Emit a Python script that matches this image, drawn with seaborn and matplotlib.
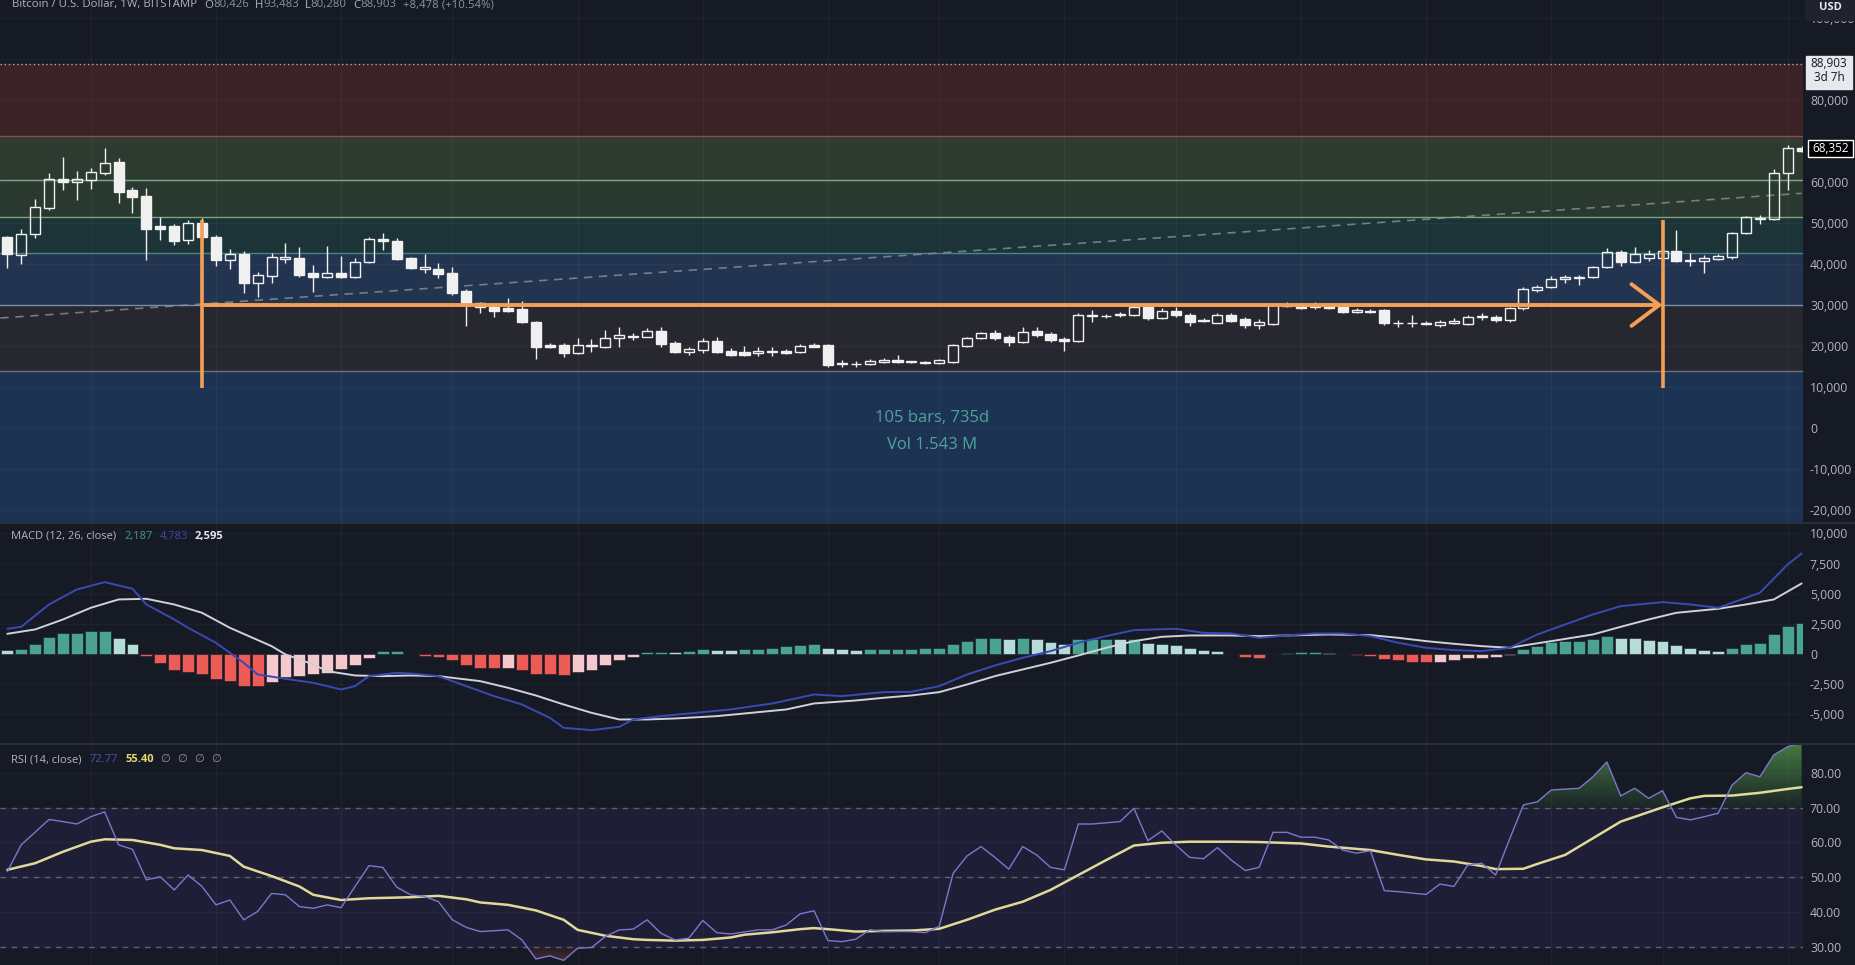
import numpy as np
import matplotlib
matplotlib.use("Agg")
import matplotlib.pyplot as plt
import seaborn as sns
from matplotlib.patches import Rectangle, PathPatch
from matplotlib.path import Path
from matplotlib.lines import Line2D
from matplotlib.colors import LinearSegmentedColormap

# weekly BTC/USD candles (Bitstamp)
opens = [46600, 42320, 47350, 53860, 60930, 60120, 60530, 62400, 64920, 58090,
         56700, 49400, 49470, 45980, 50120, 46790, 41100, 42560, 35570, 37280,
         41340, 41500, 38010, 37030, 38010, 37030, 40530, 46300, 45810, 41500,
         38980, 38900, 37850, 33540, 30690, 29720, 29310, 29150, 25980, 20370,
         20370, 18500, 20120, 19960, 21990, 22400, 22400, 23860, 20770, 18740,
         19150, 21420, 18980, 18580, 18330, 18660, 18980, 18740, 20280, 20370,
         15900, 15650, 15650, 16300, 16710, 16380, 16300, 15900, 16300, 20200,
         21990, 23210, 22400, 21180, 23860, 23050, 21910, 21420, 27440, 27440,
         27600, 27680, 29560, 26870, 28740, 27680, 26460, 25810, 27680, 26710,
         25240, 25490, 29880, 30120, 29640, 29880, 29550, 28500, 28740, 28900,
         25650, 25650, 25490, 25160, 25810, 25490, 27110, 27280, 26460, 29310,
         33780, 34430, 36380, 36790, 36870, 39300, 43120, 40690, 41670, 41580,
         43370, 40940, 40940, 41420, 41750, 47600, 51020, 51020, 62240, 68352]
highs = [47000, 48580, 55890, 62400, 66300, 62890, 63460, 68330, 65900, 58980,
         58580, 51510, 49790, 50850, 51260, 47200, 43860, 43370, 38250, 42720,
         45330, 44350, 39880, 44510, 42070, 41500, 46790, 47600, 46380, 41750,
         42560, 40290, 39470, 33940, 30940, 30530, 31750, 31180, 26300, 20770,
         20770, 21990, 21750, 24020, 24670, 23210, 24430, 24670, 21420, 19960,
         21990, 22240, 19550, 20120, 19960, 19960, 19310, 20610, 20770, 20610,
         16710, 16460, 16870, 17110, 17850, 16550, 16550, 16870, 20610, 22240,
         23620, 24020, 22800, 24670, 24830, 23620, 22240, 28090, 28900, 27930,
         28500, 30530, 29720, 29310, 29560, 28090, 26870, 28090, 28090, 27110,
         26630, 30690, 30940, 30690, 30940, 30530, 29880, 29470, 29070, 29070,
         26460, 27680, 26300, 26460, 26870, 27680, 28090, 27680, 29720, 34590,
         34920, 37200, 37440, 37440, 39630, 43940, 43530, 44190, 43530, 43940,
         48410, 42720, 42320, 42560, 48010, 51830, 52070, 63210, 69140, 68800]
lows = [39060, 40120, 46380, 53290, 58170, 55730, 58330, 61830, 54910, 52480,
        41100, 45980, 44760, 44960, 45980, 39630, 38820, 32970, 32160, 35400,
        40290, 37030, 33370, 36630, 36630, 36630, 40290, 43530, 41100, 38820,
        37850, 36630, 32560, 25000, 28090, 27280, 28500, 25650, 16870, 19550,
        17520, 18170, 18740, 19550, 19960, 21590, 22240, 19960, 18330, 17930,
        18330, 18330, 17680, 17680, 17680, 17680, 18170, 18330, 19800, 14920,
        15080, 14920, 15490, 16060, 15900, 15900, 15820, 15730, 15900, 19960,
        21750, 21590, 20120, 20770, 22240, 21180, 18980, 21180, 26060, 26870,
        27110, 27440, 26460, 26630, 27280, 25000, 25900, 25650, 26060, 24430,
        24180, 25240, 29550, 29150, 29150, 29070, 28090, 28090, 28090, 25240,
        24840, 24840, 25240, 24840, 25490, 25240, 26460, 26060, 26060, 28900,
        33370, 34190, 35400, 35000, 36630, 39060, 39630, 40450, 40940, 41100,
        40690, 39630, 37850, 41100, 41260, 47440, 49870, 50850, 58170, 67500]
closes = [42560, 47440, 53940, 60770, 60120, 60770, 62650, 64760, 57760, 56380,
          48740, 48740, 45730, 50120, 46620, 41100, 42480, 35570, 37440, 41830,
          41910, 37440, 37030, 37850, 37030, 40530, 46300, 45730, 41260, 39060,
          39300, 37680, 33130, 30530, 29720, 28660, 28660, 25980, 19800, 19800,
          18500, 20370, 20370, 21990, 22800, 22640, 23780, 20530, 18740, 19390,
          21420, 18660, 18010, 17930, 18980, 18900, 18500, 20120, 19960, 15490,
          15730, 15810, 16540, 16630, 16140, 16140, 16060, 16710, 20370, 21990,
          23210, 22070, 21180, 23620, 22800, 21590, 21420, 27680, 27680, 27520,
          27930, 29720, 26870, 28740, 27680, 26060, 26220, 27680, 26300, 25240,
          25890, 30120, 30120, 29310, 29880, 29470, 28500, 28820, 28330, 25650,
          25810, 25810, 25810, 26060, 26220, 27280, 27440, 26460, 29470, 34020,
          34430, 36380, 36870, 37030, 39300, 43120, 40690, 42560, 42480, 43370,
          40940, 41100, 41670, 42070, 47760, 51510, 51420, 62400, 68352, 67800]

# zones drawn on the price pane (boundaries, low to high)
zone_edges = [14100, 30120, 42880, 51660, 60610, 71340]
last_price = 88903
last_close = 68352
trend_x = [-0.5, 129]
trend_y = [26950, 57370]

# date/price range measurement
range_start, range_end = 14, 119
range_price = 30120
range_top, range_bottom = 50850, 9880
range_lines = ["105 bars, 735d", "Vol 1.543 M"]

# MACD (12, 26, close)
macd_x = [0, 1, 3, 5, 7, 9, 10, 12, 13, 15, 17, 18, 20, 22, 24, 25, 26, 28, 29, 31,
          33, 35, 37, 39, 40, 42, 44, 45, 47, 50, 52, 55, 58, 60, 63, 65, 67, 69, 71, 73,
          75, 77, 79, 81, 84, 86, 88, 90, 92, 94, 96, 98, 100, 102, 104, 106, 108, 110, 112, 114,
          116, 119, 121, 123, 125, 126, 128, 129]
macd_vals = [2077, 2243, 4098, 5344, 5953, 5400, 4098, 2852, 2160, 914, -748, -1717, -2077, -2409,
             -2963, -2686, -1855, -1578, -1634, -1855, -2686, -3517, -4209, -5316, -6147, -6341,
             -6064, -5455, -5178, -4846, -4624, -4126, -3378, -3517, -3184, -3156, -2686, -1717,
             -969, -332, 222, 914, 1468, 1966, 2077, 1745, 1689, 1329, 1523, 1689, 1689, 1468,
             914, 498, 305, 222, 498, 1606, 2437, 3267, 3960, 4292, 4098, 3821, 4652, 5067, 7421, 8335]
signal_x = [0, 2, 4, 6, 8, 10, 12, 14, 16, 19, 20, 22, 23, 25, 27, 29, 31, 34, 36, 38,
            40, 42, 44, 46, 48, 51, 53, 56, 58, 61, 63, 65, 67, 69, 71, 73, 75, 77, 79, 81,
            83, 85, 88, 90, 93, 95, 98, 100, 102, 104, 106, 108, 109, 111, 114, 116, 118, 120, 122, 123,
            125, 127, 129]
signal_vals = [1661, 2021, 2852, 3821, 4513, 4569, 4098, 3406, 2160, 637, -55, -886, -1440, -1800,
               -1855, -1800, -1855, -2271, -2824, -3461, -4209, -4901, -5455, -5455, -5372, -5178,
               -4957, -4624, -4126, -3877, -3655, -3461, -3184, -2548, -1855, -1301, -748, -138,
               498, 1052, 1412, 1523, 1523, 1468, 1551, 1606, 1551, 1329, 1052, 831, 637, 498,
               692, 1052, 1606, 2243, 2852, 3406, 3627, 3738, 4098, 4513, 5842]
histogram = [277, 360, 775, 1412, 1689, 1745, 1855, 1870, 1329, 775,
             -194, -803, -1385, -1495, -1717, -2077, -2271, -2686, -2700, -2354,
             -1911, -1855, -1717, -1578, -1301, -969, -332, 222, 240, 20,
             -194, -249, -526, -941, -1163, -1218, -1160, -1385, -1661, -1717,
             -1800, -1523, -1357, -969, -526, -277, 166, 180, 138, 194,
             360, 305, 300, 360, 415, 498, 637, 692, 775, 498,
             415, 305, 360, 375, 415, 430, 450, 498, 775, 1052,
             1274, 1290, 1190, 1274, 1190, 997, 831, 1190, 1210, 1246,
             1190, 1200, 914, 831, 692, 471, 277, 194, 20, -249,
             -332, -50, 83, 166, 175, 83, 10, -138, -194, -415,
             -526, -692, -700, -680, -526, -388, -332, -300, -111, 360,
             637, 969, 1052, 1080, 1190, 1440, 1301, 1290, 1108, 1052,
             692, 471, 305, 194, 443, 775, 858, 1606, 2298, 2575]

# RSI (14, close) and its moving average
rsi_x = [0, 1, 3, 4, 5, 6, 7, 8, 9, 10, 11, 12, 13, 14, 15, 16, 17, 18, 19, 20,
         21, 22, 23, 24, 25, 26, 27, 28, 29, 30, 31, 32, 33, 34, 36, 37, 38, 39, 40, 41,
         42, 43, 44, 45, 46, 47, 48, 49, 50, 51, 52, 54, 55, 56, 57, 58, 59, 60, 61, 62,
         63, 65, 66, 67, 68, 69, 70, 71, 72, 73, 74, 75, 76, 77, 78, 80, 81, 82, 83, 84,
         85, 86, 87, 88, 89, 90, 91, 92, 93, 94, 95, 96, 97, 98, 99, 100, 102, 103, 104, 105,
         106, 107, 108, 109, 110, 111, 113, 114, 115, 116, 117, 118, 119, 120, 121, 122, 123, 124, 125, 126,
         127, 128, 129]
rsi_vals = [51.6, 59.3, 66.6, 66.0, 65.3, 67.4, 68.8, 59.3, 58.0, 49.2, 50.1, 46.3, 50.6, 47.3,
            42.0, 43.4, 37.7, 40.1, 45.3, 44.9, 41.5, 41.0, 42.0, 41.2, 47.3, 53.3, 52.8, 47.1,
            44.9, 44.4, 42.9, 37.7, 35.5, 34.3, 34.8, 31.9, 26.4, 27.3, 26.0, 29.5, 29.7, 32.9,
            34.8, 35.0, 37.7, 33.8, 31.9, 32.4, 37.5, 34.0, 33.6, 34.8, 34.8, 36.2, 39.4, 40.3,
            31.7, 31.4, 32.1, 34.8, 34.3, 34.3, 34.0, 35.8, 51.1, 56.1, 58.8, 55.7, 52.3, 58.8,
            56.4, 52.8, 52.1, 65.3, 65.3, 66.0, 69.8, 60.5, 63.3, 59.3, 55.7, 55.3, 58.5, 54.9,
            51.9, 52.8, 62.9, 62.9, 61.5, 61.5, 60.7, 57.8, 56.9, 57.6, 46.1, 45.8, 45.0, 48.0,
            47.3, 53.5, 54.0, 50.6, 60.9, 70.8, 71.7, 75.1, 75.6, 78.9, 83.2, 73.4, 75.6, 72.7,
            74.9, 67.2, 66.5, 67.4, 68.4, 76.5, 80.1, 78.9, 85.2, 87.6, 88.6]
rsima_x = [0, 2, 4, 6, 7, 9, 11, 12, 14, 16, 17, 19, 21, 22, 24, 26, 28, 29, 31, 33,
           34, 36, 38, 40, 41, 43, 45, 46, 48, 50, 52, 53, 55, 57, 58, 59, 61, 63, 65, 67,
           69, 71, 73, 75, 77, 79, 81, 83, 85, 88, 90, 93, 95, 98, 100, 102, 104, 106, 107, 109,
           110, 112, 114, 116, 119, 121, 122, 124, 126, 128, 129]
rsima_vals = [52.1, 54.0, 57.3, 60.2, 60.9, 60.7, 59.3, 58.3, 57.8, 56.1, 53.0, 50.3, 47.3, 44.9,
              43.4, 43.9, 44.1, 44.2, 44.6, 43.6, 42.7, 42.0, 40.4, 37.7, 34.8, 33.1, 32.1, 31.9,
              31.7, 31.9, 32.6, 33.4, 34.1, 35.0, 35.3, 35.0, 34.3, 34.5, 34.6, 35.1, 37.7, 40.6,
              42.9, 46.3, 50.6, 54.9, 59.1, 59.9, 60.2, 60.2, 60.1, 59.7, 58.8, 57.8, 56.4, 55.1,
              54.5, 53.2, 52.3, 52.4, 53.8, 56.4, 61.2, 66.0, 70.1, 72.7, 73.4, 73.5, 74.3, 75.4, 75.9]

# axis ticks and legend text
price_ticks = [-20000, -10000, 0, 10000, 20000, 30000, 40000, 50000, 60000, 80000, 100000]
macd_ticks = [-5000, -2500, 0, 2500, 5000, 7500, 10000]
rsi_ticks = [30, 40, 50, 60, 70, 80]
month_grid = [6, 15, 24, 32, 41, 50, 59, 67, 76, 84, 93, 102, 111, 119, 128]

# ---------------------------------------------------------------
BG = "#161a25"
TXT = "#b2b5be"
CANDLE = "#f0f0f0"
ORANGE = "#f59f55"
W, H = 1856, 965

sns.set_theme(style="dark", rc={"axes.facecolor": BG, "figure.facecolor": BG})
plt.rcParams["font.family"] = ["Open Sans", "DejaVu Sans"]

fig = plt.figure(figsize=(W / 100, H / 100), dpi=100, facecolor=BG)


def px_axes(x0, y0, x1, y1):
    return fig.add_axes([x0 / W, 1 - y1 / H, (x1 - x0) / W, (y1 - y0) / H])


def fmt(v):
    return f"{v:,}"


ax_p = px_axes(0, 0, 1803, 522)
ax_m = px_axes(0, 524, 1803, 743)
ax_r = px_axes(0, 745, 1803, 965)


def style_pane(ax):
    ax.set_facecolor(BG)
    for s in ax.spines.values():
        s.set_visible(False)
    ax.set_xlim(-0.525, 129.1)
    ax.set_xticks(month_grid)
    ax.set_xticklabels([])
    ax.set_xlabel("")
    ax.set_ylabel("")
    ax.yaxis.tick_right()
    ax.tick_params(axis="both", length=0, labelsize=8.8, labelcolor=TXT, pad=5)
    ax.grid(False)
    for g in month_grid:
        ax.axvline(g, color="#ffffff", alpha=0.045, lw=1, zorder=0.8)


for ax in (ax_p, ax_m, ax_r):
    style_pane(ax)

# ---------------- price pane ----------------
ax_p.set_ylim(-22805, 104512)
ax_p.set_yticks(price_ticks)
ax_p.set_yticklabels([fmt(v) for v in price_ticks])
for v in range(-20000, 100001, 10000):
    ax_p.axhline(v, color="#ffffff", alpha=0.03, lw=1, zorder=0.8)

edges = [-40000] + zone_edges + [last_price]
zone_fill = ["#1c3354", "#26272f", "#223450", "#1c3337", "#29392f", "#2d3a30", "#3a2227"]
zone_line = ["#6f737d", "#7f8ea8", "#4a8784", "#7aa57f", "#7fa884", "#8f4c4e"]
for lo, hi, col in zip(edges[:-1], edges[1:], zone_fill):
    ax_p.axhspan(lo, hi, color=col, zorder=0.5, lw=0)
for lvl, col in zip(zone_edges, zone_line):
    ax_p.axhline(lvl, color=col, lw=1.0, zorder=1)
ax_p.axhline(last_price, color="#a9adb6", lw=1, ls=(0, (1, 2)), zorder=1)

sns.lineplot(x=trend_x, y=trend_y, ax=ax_p, color="#8a909c", linewidth=1.2,
             zorder=2, alpha=0.8).lines[-1].set_dashes((5, 4))

o, hi_, lo_, c = (np.array(a, float) for a in (opens, highs, lows, closes))
idx = np.arange(len(o))
top = np.maximum(o, c)
bot = np.minimum(o, c)
body = np.maximum(top - bot, 120)
up = c >= o
ax_p.vlines(idx, top, hi_, color=CANDLE, lw=1.0, zorder=4)
ax_p.vlines(idx, lo_, bot, color=CANDLE, lw=1.0, zorder=4)
ax_p.bar(idx[up], body[up], bottom=bot[up], width=0.72, facecolor="none",
         edgecolor=CANDLE, linewidth=1.0, zorder=5)
ax_p.bar(idx[~up], body[~up], bottom=bot[~up], width=0.72, facecolor=CANDLE,
         edgecolor=CANDLE, linewidth=1.0, zorder=5)
ax_p.set_xlabel("")
ax_p.set_ylabel("")

# range measurement
ax_p.plot([range_start, range_start], [range_bottom, range_top], color=ORANGE, lw=2.6,
          zorder=6, solid_capstyle="butt")
ax_p.plot([range_end, range_end], [range_bottom, range_top], color=ORANGE, lw=2.6,
          zorder=6, solid_capstyle="butt")
ax_p.annotate("", xy=(range_end, range_price), xytext=(range_start, range_price),
              arrowprops=dict(arrowstyle="->,head_length=1.0,head_width=0.75", color=ORANGE,
                              lw=2.8, shrinkA=0, shrinkB=0, mutation_scale=20), zorder=6)
mid = (range_start + range_end) / 2
ax_p.text(mid, 2560, range_lines[0], color="#4fa39c", fontsize=12, ha="center", va="center", zorder=7)
ax_p.text(mid, -4020, range_lines[1], color="#4fa39c", fontsize=12, ha="center", va="center", zorder=7)

# ---------------- MACD pane ----------------
ax_m.set_ylim(-7409, 10781)
ax_m.set_yticks(macd_ticks)
ax_m.set_yticklabels([fmt(v) for v in macd_ticks])
for v in macd_ticks:
    ax_m.axhline(v, color="#ffffff", alpha=0.03, lw=1, zorder=0.8)
hist = np.array(histogram, float)
prev = np.r_[hist[0] + 1, hist[:-1]]
cols = np.where(hist >= 0,
                np.where(hist > prev, "#4aa391", "#b6dcd7"),
                np.where(hist > prev, "#f4c8cd", "#ec5b56"))
ax_m.bar(idx, hist, width=0.86, color=cols, edgecolor=BG, linewidth=0.4, zorder=2)
sns.lineplot(x=signal_x, y=signal_vals, ax=ax_m, color="#cfd2da", linewidth=1.4, zorder=3)
sns.lineplot(x=macd_x, y=macd_vals, ax=ax_m, color="#3a4ab4", linewidth=1.4, zorder=4)
ax_m.set_xlabel("")
ax_m.set_ylabel("")

# ---------------- RSI pane ----------------
rsi_lo, rsi_hi = 24.67, 88.07
ax_r.axhspan(30, 70, color="#1f1e37", lw=0, zorder=0.5)
for v in rsi_ticks:
    ax_r.axhline(v, color="#ffffff", alpha=0.03, lw=1, zorder=0.8)
for lvl in (70, 50, 30):
    ax_r.axhline(lvl, color="#787b86", lw=1, ls=(0, (4, 4)), alpha=0.7, zorder=1)

rx = np.array(rsi_x, float)
rv = np.array(rsi_vals, float)


def gradient_fill(ax, where, lim, y0, y1, rgb, a0, a1):
    poly = ax.fill_between(rx, rv, lim, where=where, interpolate=True,
                           facecolor="none", edgecolor="none")
    clip = PathPatch(Path.make_compound_path(*poly.get_paths()), transform=ax.transData,
                     facecolor="none", edgecolor="none")
    ax.add_patch(clip)
    cmap = LinearSegmentedColormap.from_list("g", [(*rgb, a0), (*rgb, a1)])
    grad = np.linspace(0, 1, 256).reshape(-1, 1)
    im = ax.imshow(grad, extent=[-1, 131, y0, y1], origin="lower", aspect="auto",
                   cmap=cmap, zorder=2, interpolation="bilinear")
    im.set_clip_path(clip)


gradient_fill(ax_r, rv > 70, 70, 70, 89, (0.33, 0.62, 0.30), 0.08, 0.75)
gradient_fill(ax_r, rv < 30, 30, 30, 24, (0.75, 0.30, 0.30), 0.05, 0.45)

sns.lineplot(x=rsima_x, y=rsima_vals, ax=ax_r, color="#e0da98", linewidth=1.8, zorder=3)
sns.lineplot(x=rsi_x, y=rsi_vals, ax=ax_r, color="#7c78cc", linewidth=1.0, zorder=4)
ax_r.set_xlim(-0.525, 129.1)
ax_r.set_ylim(rsi_lo, rsi_hi)
ax_r.set_yticks(rsi_ticks)
ax_r.set_yticklabels([f"{v:.2f}" for v in rsi_ticks])
ax_r.set_xlabel("")
ax_r.set_ylabel("")
ax_r.set_xticks(month_grid)
ax_r.set_xticklabels([])

# pane separators
for yy in (523, 744):
    fig.add_artist(Line2D([0, 1], [1 - yy / H] * 2, color="#2a2e39", lw=1.5,
                          transform=fig.transFigure))

# ---------------- labels / legends ----------------
renderer = fig.canvas.get_renderer()


def text_row(x_px, y_px, pieces, size):
    x = x_px
    for s, col, weight, gap in pieces:
        t = fig.text(x / W, 1 - y_px / H, s, color=col, fontsize=size, fontweight=weight,
                     ha="left", va="center", zorder=8)
        x += t.get_window_extent(renderer=renderer).width + gap


VAL = "#8a9590"
text_row(12, 5, [("Bitcoin / U.S. Dollar, 1W, BITSTAMP", TXT, "normal", 7),
                 ("O", TXT, "normal", 0), ("80,426", VAL, "normal", 6),
                 ("H", TXT, "normal", 0), ("93,483", VAL, "normal", 6),
                 ("L", TXT, "normal", 0), ("80,280", VAL, "normal", 6),
                 ("C", TXT, "normal", 0), ("88,903", VAL, "normal", 7),
                 ("+8,478 (+10.54%)", VAL, "normal", 0)], 8.2)
text_row(11, 536, [("MACD (12, 26, close)", TXT, "normal", 8),
                   ("2,187", "#3f9a8a", "normal", 7),
                   ("4,783", "#3c48a8", "normal", 7),
                   ("2,595", "#e8e8ec", "bold", 0)], 8)
text_row(11, 760, [("RSI (14, close)", TXT, "normal", 8),
                   ("72.77", "#5452a6", "normal", 7),
                   ("55.40", "#e2da6a", "bold", 7),
                   ("\u2205", "#9598a1", "normal", 7), ("\u2205", "#9598a1", "normal", 7),
                   ("\u2205", "#9598a1", "normal", 7), ("\u2205", "#9598a1", "normal", 0)], 8)


def price_px(price):
    return H - ax_p.transData.transform((0, price))[1]


def fig_box(x0, y0, x1, y1, fc, ec, lw=1.0):
    fig.add_artist(Rectangle((x0 / W, 1 - y1 / H), (x1 - x0) / W, (y1 - y0) / H,
                             transform=fig.transFigure, facecolor=fc, edgecolor=ec,
                             lw=lw, zorder=6))


# current price label
yp = price_px(last_price)
fig_box(1806, yp - 8, 1852, yp + 25, "#e6e8ee", "#e6e8ee")
fig.text(1829 / W, 1 - yp / H, f"{last_price:,}", color="#131722", fontsize=8.5,
         ha="center", va="center", zorder=8)
fig.text(1829 / W, 1 - (yp + 14) / H, "3d 7h", color="#131722", fontsize=8.5,
         ha="center", va="center", zorder=8)

# last visible close label
yc = price_px(last_close)
fig_box(1808, yc - 8.5, 1853, yc + 8.5, "#000000", "#ffffff", 1.0)
fig.text(1830.5 / W, 1 - yc / H, f"{last_close:,}", color="#ffffff", fontsize=8.5,
         ha="center", va="center", zorder=8)

# currency box (hides most of the 100,000 label, as on the chart)
fig_box(1805, -1, 1857, 20, "#1f232e", "#1f232e")
fig.text(1830 / W, 1 - 8 / H, "USD", color="#e8e8ec", fontsize=8, fontweight="bold",
         ha="center", va="center", zorder=8)

fig.savefig("out.png", dpi=100, facecolor=BG)
